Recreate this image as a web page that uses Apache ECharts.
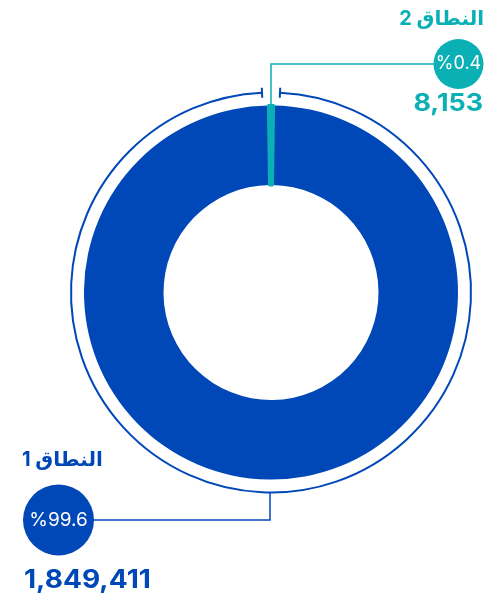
<!DOCTYPE html>
<html><head><meta charset="utf-8">
<script src="https://cdn.jsdelivr.net/npm/echarts@6/dist/echarts.min.js"></script>
<style>html,body{margin:0;padding:0;background:#fff}#c{width:493px;height:599px}</style>
</head><body><div id="c" dir="rtl"></div>
<script>
const categories = ['النطاق 1', 'النطاق 2'];
const values = [1849411, 8153];
const percentLabels = ['%99.6', '%0.4'];
const valueLabels = ['1,849,411', '8,153'];
const colors = ['#0047B8', '#0BB0B5'];

const CX = 271, CY = 292.5;
const RIN = 107.5, ROUT = 187, RRING = 200;
const FONT = 'Inter, "DejaVu Sans", sans-serif';

const chart = echarts.init(document.getElementById('c'), null, {renderer: 'canvas'});

const total = values[0] + values[1];
const smallAngle = 360 * values[1] / total;

const gapAng = 9 / RRING;
const topAng = -Math.PI / 2;
function tick(a) {
  const c = Math.cos(a), s = Math.sin(a);
  return {type: 'line', shape: {x1: CX + c * (RRING - 5), y1: CY + s * (RRING - 5), x2: CX + c * (RRING + 5), y2: CY + s * (RRING + 5)},
    style: {stroke: colors[0], lineWidth: 2}, z: 10};
}

const graphics = [
  {type: 'arc', shape: {cx: CX, cy: CY, r: RRING, startAngle: topAng + gapAng, endAngle: topAng - gapAng + Math.PI * 2, clockwise: true},
    style: {stroke: colors[0], lineWidth: 2, fill: null}, z: 10},
  tick(topAng + gapAng), tick(topAng - gapAng),
  // teal leader
  {type: 'polyline', shape: {points: [[CX, CY - ROUT], [CX, 64], [434, 64]]}, style: {stroke: colors[1], lineWidth: 1.5, fill: null}, z: 10},
  {type: 'circle', shape: {cx: 458.5, cy: 64, r: 25}, style: {fill: colors[1]}, z: 11},
  {type: 'text', x: 458.5, y: 64, style: {text: percentLabels[1], fill: '#fff', font: '18px ' + FONT, align: 'center', verticalAlign: 'middle'}, z: 12},
  {type: 'text', x: 484, y: 19, style: {text: categories[1], fill: colors[1], font: 'bold 20px ' + FONT, align: 'right', verticalAlign: 'middle'}, z: 12},
  {type: 'text', x: 483, y: 104, scaleX: 1.12, style: {text: valueLabels[1], fill: colors[1], font: 'bold 24px ' + FONT, align: 'right', verticalAlign: 'middle'}, z: 12},
  // blue leader
  {type: 'polyline', shape: {points: [[CX - 1, CY + RRING], [CX - 1, 520], [94, 520]]}, style: {stroke: colors[0], lineWidth: 1.5, fill: null}, z: 10},
  {type: 'circle', shape: {cx: 58.5, cy: 520, r: 35.5}, style: {fill: colors[0]}, z: 11},
  {type: 'text', x: 58.5, y: 520, style: {text: percentLabels[0], fill: '#fff', font: '19px ' + FONT, align: 'center', verticalAlign: 'middle'}, z: 12},
  {type: 'text', x: 22, y: 460, style: {text: categories[0], fill: colors[0], font: 'bold 20px ' + FONT, align: 'left', verticalAlign: 'middle'}, z: 12},
  {type: 'text', x: 24, y: 580, scaleX: 1.08, style: {text: valueLabels[0], fill: colors[0], font: 'bold 26px ' + FONT, align: 'left', verticalAlign: 'middle'}, z: 12}
];

chart.setOption({
  animation: false,
  backgroundColor: '#fff',
  series: [{
    type: 'pie',
    center: [CX, CY],
    radius: [RIN, ROUT],
    startAngle: 90 - smallAngle / 2,
    clockwise: true,
    avoidLabelOverlap: false,
    label: {show: false},
    labelLine: {show: false},
    emphasis: {disabled: true},
    data: [
      {name: categories[0], value: values[0], itemStyle: {color: colors[0], borderWidth: 0}},
      {name: categories[1], value: values[1], itemStyle: {color: colors[1], borderColor: colors[1], borderWidth: 3}}
    ]
  }],
  graphic: graphics
});
</script></body></html>
